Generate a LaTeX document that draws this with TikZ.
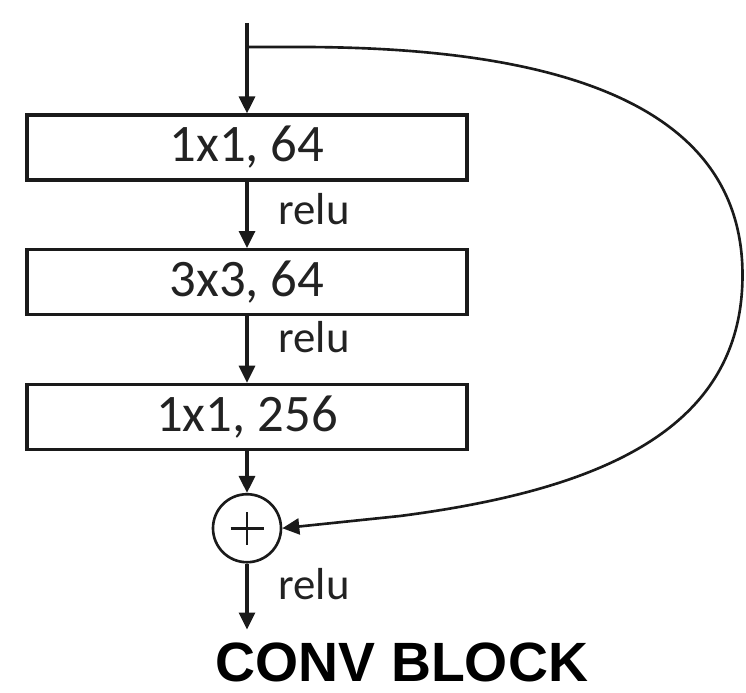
\documentclass[tikz,border=0pt]{standalone}
\usepackage{fontspec}
\setmainfont{Carlito}
\newfontfamily\titlefont{Liberation Sans}
\usetikzlibrary{arrows.meta, positioning}
\definecolor{linecolor}{HTML}{1A1A1A}
\definecolor{textcolor}{HTML}{222222}

\begin{document}
\begin{tikzpicture}[
    node distance=1.33cm,
    layer/.style={rectangle, draw=linecolor, line width=1.8pt,
                  minimum width=8.8cm, minimum height=1.3cm, align=center,
                  inner sep=0pt, text=textcolor,
                  font=\fontsize{30}{32}\selectfont},
    arrow/.style={-{Triangle[length=0.34cm, width=0.32cm]}, line width=1.8pt,
                  color=linecolor},
    relu/.style={font=\fontsize{25.5}{27}\selectfont, text=textcolor,
                 inner sep=0pt},
    adder/.style={circle, draw=linecolor, line width=1.5pt,
                  minimum size=1.36cm, inner sep=0pt}
]

\useasboundingbox (0,0) rectangle (14.92,-13.86);

% Main path
\coordinate (input) at (4.94,-0.46);
\coordinate (split) at (4.94,-0.94);
\node[layer] (conva) at (4.94,-2.95) {1x1, 64};
\node[layer, below=of conva] (convb) {3x3, 64};
\node[layer, below=of convb] (convc) {1x1, 256};
\node[adder, below=0.84cm of convc] (sum) {};
\draw[line width=1.5pt, linecolor]
    ([xshift=-0.33cm]sum.center) -- ([xshift=0.33cm]sum.center)
    ([yshift=-0.33cm]sum.center) -- ([yshift=0.33cm]sum.center);
\coordinate[below=1.32cm of sum] (output);

% Main flow arrows
\draw[arrow] (input) -- (conva);
\draw[arrow] (conva) -- (convb)
    node[relu, midway, right=0.6cm, anchor=west, yshift=0.12cm] {relu};
\draw[arrow] (convb) -- (convc)
    node[relu, midway, right=0.6cm, anchor=west, yshift=0.24cm] {relu};
\draw[arrow] (convc) -- (sum);
\draw[arrow] (sum) -- (output)
    node[relu, midway, right=0.6cm, anchor=west, yshift=0.24cm] {relu};

% Shortcut connection
\draw[arrow, line width=1.5pt]
    (split) -- (6.0,-0.94)
    .. controls (11.2,-0.94) and (14.85,-2.1) .. (14.85,-5.5)
    .. controls (14.85,-8.6) and (12.0,-9.8) .. (8.0,-10.32)
    -- (sum.east);

% Title
\node[font=\titlefont\bfseries\fontsize{31.5}{33}\selectfont] (title)
    at (8.04,-13.24) {CONV BLOCK};

\end{tikzpicture}
\end{document}
